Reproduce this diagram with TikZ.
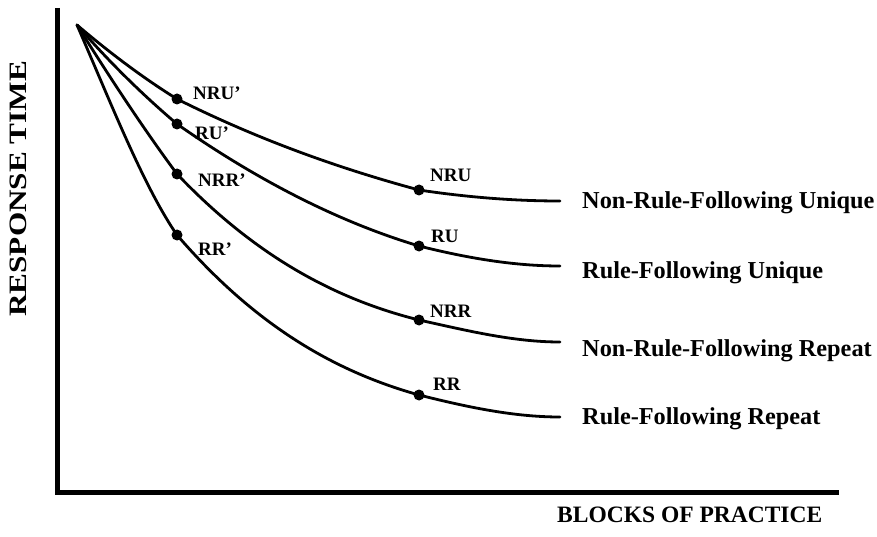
\documentclass[tikz,border=0pt]{standalone}
\usepackage{fontspec}
\setmainfont{Liberation Serif}
\begin{document}
\begin{tikzpicture}[x=1pt,y=-1pt,
  axis/.style={line width=5pt},
  curve/.style={line width=2.8pt, line join=round, line cap=round},
  dot/.style={circle, fill=black, inner sep=0pt, minimum size=11pt},
  ptlabel/.style={anchor=base west, inner sep=0pt, font=\fontsize{19}{21}\selectfont\bfseries},
  legend/.style={anchor=base west, inner sep=0pt, font=\fontsize{24.3}{28}\selectfont\bfseries},
  axislabel/.style={anchor=base west, inner sep=0pt, font=\fontsize{25}{28}\selectfont\bfseries}]
\useasboundingbox (0,0) rectangle (877,537);

% axes
\coordinate (ytop) at (57,8);
\coordinate (orig) at (57,492);
\coordinate (xend) at (839,492);
\draw[axis] (ytop) -- (orig) -- (xend);

% common starting point of all curves
\coordinate (start) at (77,25);

% early and late practice points
\coordinate (nru1) at (177,99);
\coordinate (ru1)  at (177,124);
\coordinate (nrr1) at (177,174);
\coordinate (rr1)  at (177,235);
\coordinate (nru2) at (419,190);
\coordinate (ru2)  at (419,246);
\coordinate (nrr2) at (419,320);
\coordinate (rr2)  at (419,395);

% curve ends
\coordinate (nruE) at (560,201);
\coordinate (ruE)  at (560,266);
\coordinate (nrrE) at (560,342);
\coordinate (rrE)  at (560,417);

% learning curves, each made of three cubic pieces
\draw[curve] (start)
  .. controls +(33.33,28.33) and +(-33.33,-20.67) .. (nru1)
  .. controls +(80.67,40.33) and +(-80.67,-21.78) .. (nru2)
  .. controls +(47,7.05) and +(-47,0) .. (nruE);
\draw[curve] (start)
  .. controls +(33.33,38.33) and +(-33.33,-28.33) .. (ru1)
  .. controls +(80.67,56.47) and +(-80.67,-24.2) .. (ru2)
  .. controls +(47,11.75) and +(-47,0) .. (ruE);
\draw[curve] (start)
  .. controls +(33.33,53.33) and +(-33.33,-45) .. (nrr1)
  .. controls +(80.67,84.7) and +(-80.67,-20.17) .. (nrr2)
  .. controls +(47,10.34) and +(-47,0) .. (nrrE);
\draw[curve] (start)
  .. controls +(33.33,76.67) and +(-33.33,-48.33) .. (rr1)
  .. controls +(80.67,93.57) and +(-80.67,-22.59) .. (rr2)
  .. controls +(47,11.75) and +(-47,0) .. (rrE);

% markers
\node[dot] (d-nru1) at (nru1) {};
\node[dot] (d-ru1)  at (ru1)  {};
\node[dot] (d-nrr1) at (nrr1) {};
\node[dot] (d-rr1)  at (rr1)  {};
\node[dot] (d-nru2) at (nru2) {};
\node[dot] (d-ru2)  at (ru2)  {};
\node[dot] (d-nrr2) at (nrr2) {};
\node[dot] (d-rr2)  at (rr2)  {};

% marker labels
\node[ptlabel] (l-nru1) at (193,100) {NRU’};
\node[ptlabel] (l-ru1)  at (195,140) {RU’};
\node[ptlabel] (l-nrr1) at (198,187) {NRR’};
\node[ptlabel] (l-rr1)  at (198,255) {RR’};
\node[ptlabel] (l-nru2) at (430,182) {NRU};
\node[ptlabel] (l-ru2)  at (431,242) {RU};
\node[ptlabel] (l-nrr2) at (430,317) {NRR};
\node[ptlabel] (l-rr2)  at (433,390) {RR};

% curve names
\node[legend] (n-nru) at (582,209) {Non-Rule-Following Unique};
\node[legend] (n-ru)  at (582,278) {Rule-Following Unique};
\node[legend] (n-nrr) at (582,356) {Non-Rule-Following Repeat};
\node[legend] (n-rr)  at (582,424) {Rule-Following Repeat};

% axis titles
\node[axislabel, rotate=90] (ylab) at (27,317) {\scalebox{1.25}[1]{RESPONSE TIME}};
\node[axislabel, font=\fontsize{23.5}{28}\selectfont\bfseries] (xlab) at (557,522) {BLOCKS OF PRACTICE};
\end{tikzpicture}
\end{document}
